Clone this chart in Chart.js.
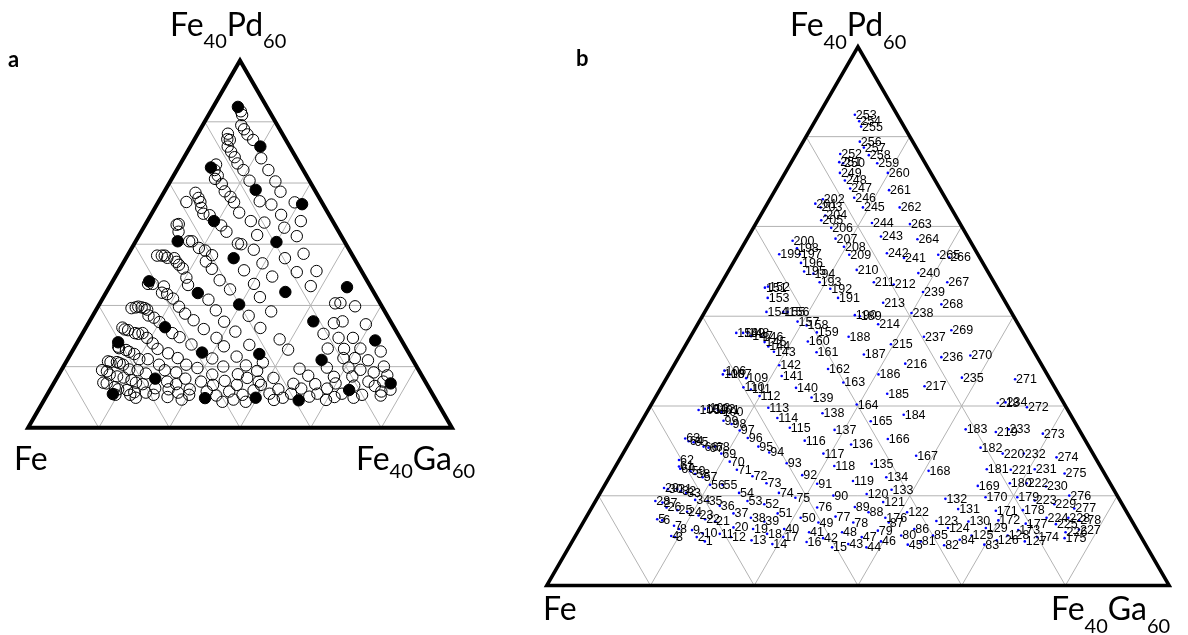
<!DOCTYPE html>
<html lang="en">
<head>
<meta charset="UTF-8">
<title>Fe-Pd-Ga ternary</title>
<script src="https://cdn.jsdelivr.net/npm/chart.js"></script>
<style>
  html, body { margin: 0; padding: 0; background: #fff; }
  #page { position: relative; width: 1188px; height: 635px; overflow: hidden; }
  canvas { position: absolute; }
  .lbl { position: absolute; font-family: Lato, "Open Sans", sans-serif; font-size: 32px; line-height: 32px; color: #000; white-space: nowrap; }
  .lbl sub { font-size: 20px; vertical-align: baseline; position: relative; }
  .tag { position: absolute; font-family: Lato, sans-serif; font-weight: bold; font-size: 22px; line-height: 22px; }
</style>
</head>
<body>
<div id="page">
  <canvas id="chartA" width="480" height="490" style="left:0;top:0"></canvas>
  <canvas id="chartB" width="668" height="635" style="left:520px;top:0"></canvas>

  <div class="tag" style="left:8px;top:48px">a</div>
  <div class="lbl" style="left:170px;top:8px">Fe<sub style="top:12px">40</sub>Pd<sub style="top:12px">60</sub></div>
  <div class="lbl" style="left:14px;top:442px">Fe</div>
  <div class="lbl" style="left:356px;top:442px">Fe<sub style="top:8px">40</sub>Ga<sub style="top:8px">60</sub></div>

  <div class="tag" style="left:576px;top:47px">b</div>
  <div class="lbl" style="left:790px;top:8px">Fe<sub style="top:13px">40</sub>Pd<sub style="top:13px">60</sub></div>
  <div class="lbl" style="left:543px;top:592px">Fe</div>
  <div class="lbl" style="left:1051px;top:592px">Fe<sub style="top:13px">40</sub>Ga<sub style="top:13px">60</sub></div>
</div>
<script>
// corner names (end members)
const corners = ['Fe', 'Fe40Pd60', 'Fe40Ga60'];
// grid lines every 1/6 of each side
const gridSteps = [100 / 6, 200 / 6, 300 / 6, 400 / 6, 500 / 6];

// samples: [id, Fe40Pd60 fraction %, Fe40Ga60 fraction %]
const samples = [
  [1,8.2,21.3],[2,9.0,19.6],[3,9.0,16.1],[4,9.2,15.4],[5,12.3,11.6],[6,12.1,12.5],[7,11.1,14.9],[8,10.5,16.0],[9,10.3,18.2],[10,9.7,20.2],
  [11,9.6,23.0],[12,9.0,25.1],[13,8.4,28.7],[14,7.7,32.4],[15,7.1,42.3],[16,8.1,37.7],[17,9.0,33.5],[18,9.6,30.6],[19,10.5,27.9],[20,10.8,24.6],
  [21,11.9,21.1],[22,12.3,19.3],[23,13.0,17.9],[24,13.7,15.7],[25,14.0,14.0],[26,14.5,12.0],[27,15.4,10.9],[28,15.7,9.6],[29,18.1,9.8],[30,17.9,10.5],
  [31,17.9,12.0],[32,17.6,12.8],[33,17.2,13.8],[34,15.9,15.9],[35,15.7,18.0],[36,14.8,20.4],[37,13.4,23.3],[38,12.6,26.5],[39,11.9,29.0],[40,10.5,32.9],
  [41,9.9,37.2],[42,8.8,40.0],[43,7.7,44.6],[44,7.1,47.8],[45,7.6,54.2],[46,8.2,49.6],[47,9.0,46.1],[48,9.9,42.5],[49,11.7,37.8],[50,12.6,34.5],
  [51,13.4,30.4],[52,15.1,27.4],[53,15.7,24.4],[54,17.2,22.3],[55,18.7,18.9],[56,18.7,16.9],[57,20.1,15.0],[58,20.7,13.5],[59,21.2,12.5],[60,21.7,10.6],
  [61,22.1,10.2],[62,23.3,9.6],[63,27.3,8.6],[64,26.8,9.4],[65,26.6,10.3],[66,25.8,12.3],[67,25.6,13.2],[68,25.8,14.1],[69,24.5,15.8],[70,23.0,17.9],
  [71,21.5,19.8],[72,20.3,22.9],[73,19.0,25.8],[74,17.2,28.7],[75,16.3,31.8],[76,14.5,36.2],[77,12.8,40.0],[78,11.7,43.4],[79,10.2,48.1],[80,9.3,52.3],
  [81,8.2,56.0],[82,7.5,60.1],[83,7.6,66.5],[84,8.5,62.1],[85,9.3,57.4],[86,10.5,53.8],[87,11.7,49.1],[88,13.6,44.9],[89,14.6,42.2],[90,16.7,37.7],
  [91,18.9,34.0],[92,20.5,30.8],[93,22.7,27.2],[94,24.7,23.4],[95,25.8,21.1],[96,27.4,18.6],[97,28.8,16.6],[98,30.0,14.7],[99,30.6,13.1],[100,32.2,12.0],
  [101,32.6,11.2],[102,32.8,10.4],[103,33.0,9.5],[104,32.8,9.0],[105,32.6,8.1],[106,39.9,8.6],[107,39.2,9.8],[108,39.2,8.7],[109,38.5,12.8],[110,36.8,13.2],
  [111,36.4,14.6],[112,35.2,16.6],[113,33.0,19.1],[114,31.1,21.5],[115,29.3,24.4],[116,26.9,28.0],[117,24.5,32.2],[118,22.2,35.1],[119,19.4,39.5],[120,17.0,42.9],
  [121,15.5,46.3],[122,13.6,51.1],[123,12.0,56.6],[124,10.7,59.1],[125,9.3,63.6],[126,8.4,68.1],[127,8.2,72.7],[128,9.3,69.4],[129,10.7,65.2],[130,11.9,61.8],
  [131,14.2,59.0],[132,16.1,56.0],[133,17.8,46.5],[134,20.1,44.5],[135,22.6,40.9],[136,26.2,35.8],[137,28.9,31.8],[138,32.0,28.3],[139,34.9,25.1],[140,36.7,21.7],
  [141,38.9,18.3],[142,40.9,16.9],[143,43.4,14.8],[144,44.4,13.4],[145,45.2,12.4],[146,46.2,11.4],[147,46.3,9.7],[148,46.9,8.8],[149,46.9,8.1],[150,46.9,7.0],
  [151,55.3,7.4],[152,55.5,7.8],[153,53.4,8.8],[154,50.8,9.9],[155,50.8,12.6],[156,50.8,13.3],[157,49.0,15.8],[158,48.3,17.6],[159,47.0,19.9],[160,45.3,19.3],
  [161,43.3,21.7],[162,40.2,25.1],[163,37.7,28.8],[164,33.6,33.0],[165,30.5,36.8],[166,27.2,41.2],[167,24.1,47.3],[168,21.3,50.7],[169,18.5,60.0],[170,16.4,62.3],
  [171,13.9,65.2],[172,12.1,66.5],[173,10.3,70.6],[174,9.0,74.3],[175,8.8,78.8],[176,12.6,48.1],[177,11.5,71.2],[178,14.0,69.5],[179,16.4,67.4],[180,19.0,64.9],
  [181,21.6,59.9],[182,25.6,56.9],[183,29.0,52.8],[184,31.7,41.5],[185,35.6,36.9],[186,39.2,33.7],[187,42.9,29.5],[188,46.2,25.4],[189,50.0,25.3],[190,50.2,24.4],
  [191,53.4,20.1],[192,55.1,18.0],[193,56.3,15.7],[194,57.9,13.9],[195,58.3,12.2],[196,59.9,10.9],[197,61.5,9.9],[198,62.6,8.9],[199,61.5,6.6],[200,64.0,7.5],
  [201,70.9,7.7],[202,71.7,8.5],[203,70.2,8.9],[204,68.7,10.4],[205,67.8,10.2],[206,66.4,12.5],[207,64.4,14.2],[208,62.9,16.3],[209,61.4,17.9],[210,58.6,20.5],
  [211,56.3,24.4],[212,55.9,27.8],[213,52.5,27.8],[214,48.5,29.0],[215,44.8,32.9],[216,41.2,37.0],[217,37.0,42.2],[218,33.9,55.5],[219,28.5,57.9],[220,24.5,61.0],
  [221,21.5,63.8],[222,19.0,67.6],[223,15.8,70.5],[224,12.6,74.0],[225,11.4,76.1],[226,9.9,78.4],[227,10.4,80.3],[228,12.6,77.5],[229,15.1,74.0],[230,18.4,71.0],
  [231,21.6,67.6],[232,24.5,64.4],[233,29.0,59.7],[234,34.0,56.7],[235,38.6,47.4],[236,42.4,42.2],[237,46.2,37.5],[238,50.6,33.3],[239,54.5,33.2],[240,58.0,30.7],
  [241,60.8,27.0],[242,61.7,23.8],[243,64.8,21.3],[244,67.3,18.6],[245,70.2,15.7],[246,72.0,13.4],[247,73.7,11.9],[248,75.2,10.3],[249,76.6,8.8],[250,78.4,8.4],
  [251,78.6,7.7],[252,80.1,7.1],[253,87.4,5.8],[254,86.2,7.1],[255,85.2,7.9],[256,82.4,9.1],[257,81.3,10.3],[258,79.9,11.8],[259,78.4,13.9],[260,76.6,16.5],
  [261,73.4,18.3],[262,70.2,21.6],[263,67.1,24.8],[264,64.3,27.4],[265,61.4,32.2],[266,60.9,34.2],[267,56.3,36.2],[268,52.2,37.3],[269,47.4,41.3],[270,42.7,46.7],
  [271,38.3,56.1],[272,33.1,60.6],[273,28.2,65.6],[274,23.8,70.0],[275,20.8,72.8],[276,16.7,75.6],[277,14.3,77.6],[278,12.1,79.5]
];

// samples shown as filled circles in panel a
const filledIds = [4, 16, 37, 46, 62, 82, 92, 96, 106, 134, 140, 154, 164, 169, 173, 183,
                   188, 193, 201, 217, 238, 243, 253, 260, 266, 271, 274, 278];

const H = Math.sqrt(3) / 2;
function toXY(pd, ga) {
    return { x: ga + pd / 2, y: pd * H };
}

function frameDatasets(edgeWidth) {
    const sets = [];
    gridSteps.forEach(f => {
        [[toXY(f, 0), toXY(f, 100 - f)],
         [toXY(0, f), toXY(100 - f, f)],
         [toXY(100 - f, 0), toXY(0, 100 - f)]].forEach(seg => {
            sets.push({
                data: seg, showLine: true, pointRadius: 0,
                borderColor: '#b3b3b3', borderWidth: 1, order: 5
            });
        });
    });
    sets.push({
        data: [toXY(0, 0), toXY(0, 100), toXY(100, 0), toXY(0, 0), toXY(0, 100)],
        showLine: true, pointRadius: 0, borderColor: '#000',
        borderWidth: edgeWidth, borderJoinStyle: 'miter', order: 4
    });
    return sets;
}

// pixel placement of each panel: base-left corner and pixels per percent
function scalesFor(canvasW, canvasH, baseLeft, baseY, k) {
    return {
        x: { type: 'linear', display: false, min: -baseLeft / k, max: (canvasW - baseLeft) / k },
        y: { type: 'linear', display: false, min: (baseY - canvasH) / k, max: baseY / k }
    };
}

const commonOpts = {
    responsive: false,
    animation: false,
    layout: { padding: 0 },
    plugins: { legend: { display: false }, tooltip: { enabled: false } }
};

// panel a
const openPts = samples.filter(s => !filledIds.includes(s[0])).map(s => toXY(s[1], s[2]));
const fullPts = samples.filter(s => filledIds.includes(s[0])).map(s => toXY(s[1], s[2]));

new Chart(document.getElementById('chartA'), {
    type: 'scatter',
    data: {
        datasets: frameDatasets(4).concat([
            { data: openPts, pointRadius: 5.7, pointBorderWidth: 1,
              pointBorderColor: '#000', pointBackgroundColor: 'rgba(0,0,0,0)', order: 2 },
            { data: fullPts, pointRadius: 5.7, pointBorderWidth: 1,
              pointBorderColor: '#000', pointBackgroundColor: '#000', order: 1 }
        ])
    },
    options: Object.assign({}, commonOpts, { scales: scalesFor(480, 490, 22, 433, 4.36) })
});

// panel b: numbered samples
const labelPlugin = {
    id: 'sampleLabels',
    afterDatasetsDraw(chart) {
        const idx = chart.data.datasets.findIndex(d => d.sampleIds);
        const ds = chart.data.datasets[idx];
        const meta = chart.getDatasetMeta(idx);
        const ctx = chart.ctx;
        ctx.save();
        ctx.font = '12.5px "Liberation Sans", Arial, sans-serif';
        ctx.fillStyle = '#000';
        ctx.textAlign = 'left';
        ctx.textBaseline = 'middle';
        meta.data.forEach((pt, i) => {
            ctx.fillText(String(ds.sampleIds[i]), pt.x + 1, pt.y + 0.5);
        });
        ctx.restore();
    }
};

new Chart(document.getElementById('chartB'), {
    type: 'scatter',
    data: {
        datasets: frameDatasets(3.5).concat([
            { data: samples.map(s => toXY(s[1], s[2])), sampleIds: samples.map(s => s[0]),
              pointRadius: 1.3, pointBorderWidth: 0, pointBackgroundColor: '#0000ff', order: 1 }
        ])
    },
    options: Object.assign({}, commonOpts, { scales: scalesFor(668, 635, 23, 589, 6.3) }),
    plugins: [labelPlugin]
});
</script>
</body>
</html>
